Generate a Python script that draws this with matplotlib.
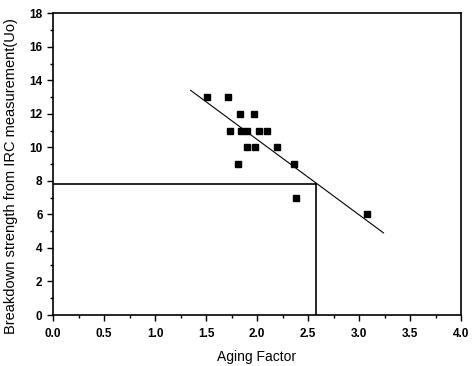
#!/usr/bin/env python3
import matplotlib.pyplot as plt
from matplotlib.ticker import MultipleLocator

plt.rcParams['font.family'] = ['Liberation Sans', 'DejaVu Sans']

# measured points
aging = [1.51, 1.72, 1.83, 1.97, 1.74, 1.84, 1.90, 2.02, 2.10,
         1.90, 1.98, 2.20, 1.81, 2.36, 2.38, 3.08]
strength = [13, 13, 12, 12, 11, 11, 11, 11, 11,
            10, 10, 10, 9, 9, 7, 6]

# fitted line end points
fit_x = [1.35, 3.24]
fit_y = [13.4, 4.9]

# read-off point
cut_x = 2.575
cut_y = 7.8

fig = plt.figure()
fig.set_size_inches(4.72, 3.66)
ax = fig.add_axes([0.1123, 0.1393, 0.8644, 0.8244])

ax.plot(fit_x, fit_y, color='black', linewidth=0.8)
ax.plot(aging, strength, 's', color='black', markersize=4.5)
ax.plot([0, cut_x], [cut_y, cut_y], color='black', linewidth=1.2)
ax.plot([cut_x, cut_x], [0, cut_y], color='black', linewidth=1.2)

ax.set_xlim(0, 4.0)
ax.set_ylim(0, 18)
ax.xaxis.set_major_locator(MultipleLocator(0.5))
ax.xaxis.set_minor_locator(MultipleLocator(0.25))
ax.yaxis.set_major_locator(MultipleLocator(2))
ax.yaxis.set_minor_locator(MultipleLocator(1))
ax.xaxis.set_major_formatter(plt.FormatStrFormatter('%.1f'))
ax.tick_params(which='major', length=4, width=1, labelsize=8.5)
ax.tick_params(which='minor', length=2, width=1)
ax.tick_params(axis='x', which='major', pad=5.5)
for lbl in ax.get_xticklabels() + ax.get_yticklabels():
    lbl.set_fontweight('bold')
for s in ax.spines.values():
    s.set_linewidth(1.2)

ax.set_xlabel("Aging Factor", fontsize=10, labelpad=7)
ax.set_ylabel("Breakdown strength from IRC measurement(Uo)", fontsize=10.5)
ax.yaxis.set_label_coords(-0.085, 0.462)

fig.savefig('out.png', dpi=100)
